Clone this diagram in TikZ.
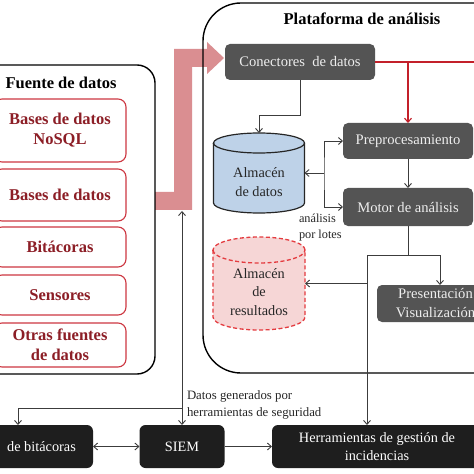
\documentclass[tikz,border=0pt]{standalone}
\usepackage{fontspec}
\setmainfont{Liberation Serif}
\usetikzlibrary{arrows.meta,calc}
\definecolor{boxgray}{RGB}{84,84,84}
\definecolor{boxtext}{RGB}{238,238,238}
\definecolor{boxdark}{RGB}{30,30,30}
\definecolor{linegray}{RGB}{60,60,60}
\definecolor{srcred}{RGB}{205,55,65}
\definecolor{srctext}{RGB}{140,30,38}
\definecolor{cylblue}{RGB}{190,210,232}
\definecolor{respink}{RGB}{246,214,214}
\definecolor{resred}{RGB}{228,60,64}
\definecolor{pinkarrow}{RGB}{218,142,145}
\definecolor{redline}{RGB}{195,32,42}
\newcommand{\fsz}[2]{\fontsize{#1bp}{#2bp}\selectfont}
\begin{document}
\begin{tikzpicture}[x=1bp,y=-1bp,
  every node/.style={inner sep=0pt, outer sep=0pt},
  container/.style={draw=black, line width=1.4bp},
  titletext/.style={font=\fsz{16.5}{20}\bfseries, text=black},
  srcbox/.style={draw=srcred, line width=1.1bp, rounded corners=8bp, fill=white, text=srctext, font=\fsz{16.5}{20}\bfseries, align=center, minimum width=132bp},
  graybox/.style={fill=boxgray, text=boxtext, rounded corners=5bp, font=\fsz{14.6}{19}, align=center},
  darkbox/.style={fill=boxdark, text=white, rounded corners=6bp, font=\fsz{14.3}{18}, align=center, minimum height=43bp},
  cyltext/.style={font=\fsz{14.3}{18.5}, align=center, text=black!85},
  smalltext/.style={font=\fsz{12.8}{17}, align=left, text=black!85},
  conn/.style={draw=linegray, line width=0.9bp},
  redconn/.style={draw=redline, line width=1.1bp},
  arrowend/.style={-{Straight Barb[length=4bp,width=7bp]}},
  arrowboth/.style={{Straight Barb[length=4bp,width=7bp]}-{Straight Barb[length=4bp,width=7bp]}}
]
\useasboundingbox (0,0) rectangle (474,474);
\clip (0,0) rectangle (474,474);
\fill[white] (0,0) rectangle (474,474);

% big pink block arrow
\fill[pinkarrow] (155,192) -- (174,192) -- (174,49) -- (207,49) -- (207,42) -- (224,58) -- (207,74) -- (207,67) -- (192,67) -- (192,210) -- (155,210) -- cycle;

% containers
\node[container, rounded corners=18bp, minimum width=185bp, minimum height=309bp] (fuente) at (62.5,219.5) {};
\node[titletext] (fuentet) at (61,83) {Fuente de datos};
\node[container, rounded corners=38bp, minimum width=330bp, minimum height=370bp] (plat) at (368,188) {};
\node[titletext] (platt) at (362,19) {Plataforma de análisis};

% data sources
\node[srcbox, minimum height=63bp] (s1) at (60,130.5) {Bases de datos\\NoSQL};
\node[srcbox, minimum height=52bp] (s2) at (60,195) {Bases de datos};
\node[srcbox, minimum height=40bp] (s3) at (60,247) {Bitácoras};
\node[srcbox, minimum height=40bp] (s4) at (60,295) {Sensores};
\node[srcbox, minimum height=44bp] (s5) at (60,345) {Otras fuentes\\de datos};

% gray boxes
\node[graybox, minimum width=150bp, minimum height=36bp] (conect) at (300,62) {Conectores\ \ de datos};
\node[graybox, minimum width=130bp, minimum height=36bp] (prep) at (408,141) {Preprocesamiento};
\node[graybox, minimum width=130bp, minimum height=38bp] (motor) at (408,207) {Motor de análisis};
\node[graybox, minimum width=126bp, minimum height=37bp] (pres) at (440,303.5) {};
\node[graybox, fill=none] (prest) at (435.5,303.5) {Presentación\\Visualización};

% cylinder: Almacen de datos
\filldraw[fill=cylblue, draw=black!85, line width=1.2bp]
  (213.5,143) -- (213.5,203) arc[start angle=180, end angle=360, x radius=45.5bp, y radius=10bp]
  -- (304.5,143) arc[start angle=0, end angle=180, x radius=45.5bp, y radius=10bp] -- cycle;
\draw[draw=black!85, line width=1.2bp] (213.5,143) arc[start angle=180, end angle=360, x radius=45.5bp, y radius=10bp];
\node[minimum width=91bp, minimum height=80bp] (ad) at (259,173) {};
\node[cyltext] (adt) at (259,182) {Almacén\\de datos};

% cylinder: Almacen de resultados
\filldraw[fill=respink, draw=resred, line width=1.3bp, dash pattern=on 4bp off 2.5bp]
  (213,250) -- (213,317) arc[start angle=180, end angle=360, x radius=46bp, y radius=13bp]
  -- (305,250) arc[start angle=0, end angle=180, x radius=46bp, y radius=13bp] -- cycle;
\draw[draw=resred, line width=1.3bp, dash pattern=on 4bp off 2.5bp] (213,250) arc[start angle=180, end angle=360, x radius=46bp, y radius=13bp];
\node[minimum width=92bp, minimum height=93bp] (ar) at (259,283.5) {};
\node[cyltext] (art) at (259,292) {Almacén\\de\\resultados};

\node[smalltext, font=\fsz{12.3}{16}, anchor=west] (lotes) at (299,227.5) {análisis\\por lotes};

% bottom boxes
\node[darkbox, minimum width=103bp] (gb) at (41.5,446.5) {de bitácoras};
\node[darkbox, minimum width=85bp] (siem) at (182,446.5) {SIEM};
\node[darkbox, minimum width=210bp] (herr) at (377,446.5) {Herramientas de gestión de\\incidencias};
\node[smalltext, anchor=west] (datosgen) at (187,404.5) {Datos generados por\\herramientas de seguridad};

% red connectors
\coordinate (redend) at (480,62);
\coordinate (redj) at (408,62);
\draw[redconn] (conect.east) -- (redend);
\draw[redconn, arrowend] (redj) -- (prep.north);

% gray connectors
\draw[conn, arrowend] (conect.south) -- ++(0,35) -| (ad.north);
\coordinate (bx) at (324,173);
\draw[conn, arrowboth] (prep.west) -| (bx) |- (motor.west);
\draw[conn, arrowend] (bx) -- (ad.east);
\draw[conn, arrowend] (prep.south) -- (motor.north);

\coordinate (mj) at (367,255);
\draw[conn] (motor.south) -- (motor.south |- mj) -- (mj);
\draw[conn, arrowend] (mj) -| (pres.north);
\draw[conn, arrowend] (mj) -- (mj |- herr.north);
\draw[conn, arrowend] (mj |- ar.east) -- (ar.east);

\coordinate (pk) at (182,211);
\draw[conn, arrowboth] (pk) -- (siem.north);
\coordinate (sj) at (182,408);
\draw[conn, arrowend] (sj) -| ([xshift=-23.5bp]gb.north);
\draw[conn, arrowboth] (gb.east) -- (siem.west);
\draw[conn, arrowend] (siem.east) -- (herr.west);
\end{tikzpicture}
\end{document}
